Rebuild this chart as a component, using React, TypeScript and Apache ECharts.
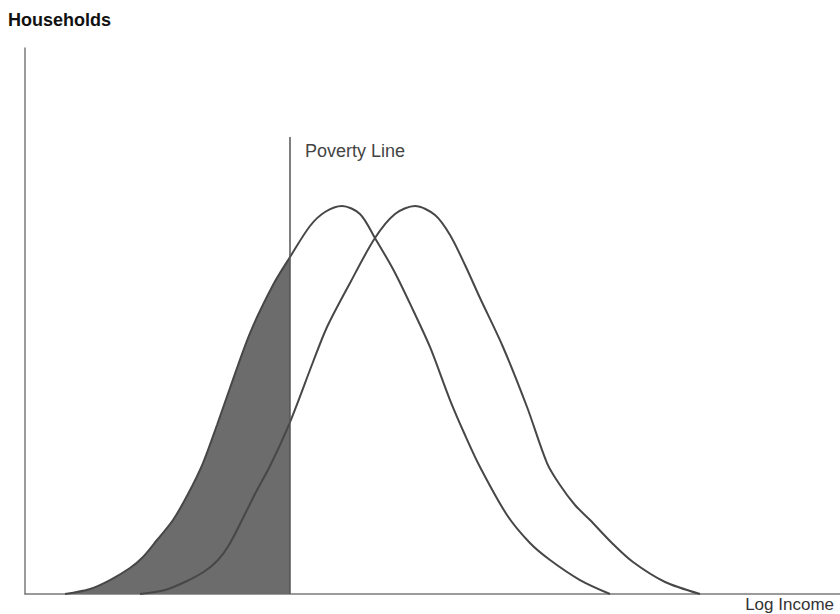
import React, { useEffect, useRef } from "react";
import * as echarts from "echarts";

// Log income (arbitrary units, 0-100) vs households (arbitrary units, 0-100)
const beforeX = [4.91, 7.98, 10.43, 12.88, 14.48, 16.2, 18.16, 20.0, 21.84, 23.56, 25.15, 27.61, 30.43, 32.52, 34.97, 36.81, 38.9, 41.1, 42.94, 45.28, 47.61, 49.69, 52.15, 53.99, 55.83, 59.14, 61.96, 64.42, 68.1, 71.78];
const beforeY = [0, 0.92, 2.56, 4.76, 6.78, 9.89, 13.55, 18.32, 23.99, 30.95, 37.73, 47.8, 56.59, 61.72, 67.4, 69.96, 71.06, 69.6, 65.2, 59.16, 52.01, 45.24, 35.53, 29.12, 23.26, 14.47, 9.34, 6.23, 2.56, 0];

const afterX = [14.11, 17.18, 19.88, 22.09, 23.68, 25.03, 26.75, 28.34, 30.06, 32.52, 35.34, 37.06, 39.88, 42.94, 45.4, 47.85, 50.31, 52.15, 53.99, 55.83, 58.65, 61.6, 64.05, 65.64, 67.48, 69.33, 72.02, 74.6, 78.53, 82.82];
const afterY = [0, 0.73, 2.38, 4.21, 6.23, 8.97, 13.92, 18.68, 23.44, 31.5, 42.49, 48.9, 56.96, 65.2, 69.6, 71.06, 69.41, 65.75, 60.26, 54.21, 45.24, 34.25, 23.99, 19.96, 16.3, 13.55, 9.34, 5.86, 2.2, 0];

const povertyLineX = 32.52;
const povertyLineTop = 83.7;

const zip = (xs: number[], ys: number[]) => xs.map((x, i) => [x, ys[i]]);

export default function App() {
  const ref = useRef<HTMLDivElement>(null);
  useEffect(() => {
    if (!ref.current) return;
    const chart = echarts.init(ref.current, null, { renderer: "svg" });
    const before = zip(beforeX, beforeY);
    const after = zip(afterX, afterY);
    const shaded = before.filter((p) => p[0] <= povertyLineX);
    const lineColor = "#474747";
    const font = "'Liberation Sans', Arial, Helvetica, sans-serif";
    chart.setOption({
      animation: false,
      backgroundColor: "#ffffff",
      title: {
        text: "Households",
        left: 3,
        top: 6,
        textStyle: { fontFamily: font, fontSize: 18, fontWeight: "bold", color: "#111" },
      },
      grid: { left: 25, right: 0, top: 48, bottom: 20 },
      xAxis: {
        type: "value",
        min: 0,
        max: 100,
        axisLine: { show: true, lineStyle: { color: "#7a7a7a", width: 1.5 } },
        axisTick: { show: false },
        axisLabel: { show: false },
        splitLine: { show: false },
      },
      yAxis: {
        type: "value",
        min: 0,
        max: 100,
        axisLine: { show: true, lineStyle: { color: "#7a7a7a", width: 1.5 } },
        axisTick: { show: false },
        axisLabel: { show: false },
        splitLine: { show: false },
      },
      graphic: [
        {
          type: "text",
          right: 6,
          top: 596,
          style: { text: "Log Income", font: `17px ${font}`, fill: "#333" },
        },
        {
          type: "text",
          left: 305,
          top: 142,
          style: { text: "Poverty Line", font: `18px ${font}`, fill: "#444" },
        },
      ],
      series: [
        {
          type: "line",
          data: shaded,
          smooth: 0.3,
          symbol: "none",
          lineStyle: { width: 0 },
          areaStyle: { color: "#6c6c6c", opacity: 1 },
          z: 1,
        },
        {
          type: "line",
          data: before,
          smooth: 0.3,
          symbol: "none",
          lineStyle: { color: lineColor, width: 2 },
          z: 3,
        },
        {
          type: "line",
          data: after,
          smooth: 0.3,
          symbol: "none",
          lineStyle: { color: lineColor, width: 2 },
          z: 3,
          markLine: {
            symbol: "none",
            silent: true,
            lineStyle: { color: "#555", width: 1.5, type: "solid" },
            label: { show: false },
            data: [[{ coord: [povertyLineX, 0] }, { coord: [povertyLineX, povertyLineTop] }]],
          },
        },
      ],
    });
    return () => chart.dispose();
  }, []);
  return <div ref={ref} style={{ position: "fixed", left: 0, top: 0, width: 840, height: 614 }} />;
}
